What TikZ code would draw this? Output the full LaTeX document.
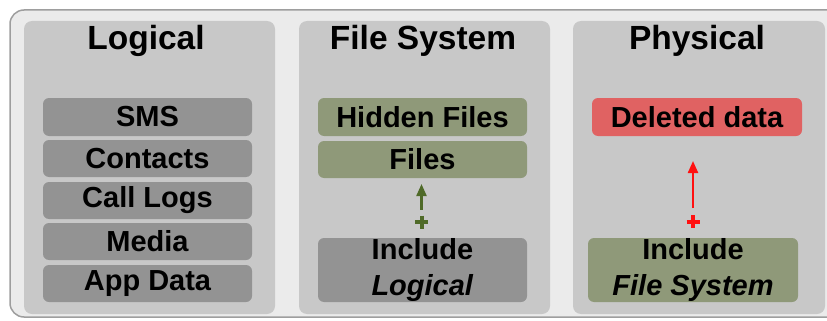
\documentclass[tikz,border=0pt]{standalone}
\usepackage{fontspec}
\setmainfont{Liberation Sans}
\usetikzlibrary{arrows.meta}
\definecolor{outerfill}{HTML}{EBEBEB}
\definecolor{outerline}{HTML}{9E9E9E}
\definecolor{panelfill}{HTML}{C8C8C8}
\definecolor{grayitem}{HTML}{939393}
\definecolor{greenitem}{HTML}{8F9979}
\definecolor{reditem}{HTML}{E06262}
\definecolor{arrowgreen}{HTML}{4F6A28}
\definecolor{arrowred}{HTML}{FF1010}
\tikzset{
  panel/.style={fill=panelfill, draw=none, rounded corners=8pt},
  title/.style={font=\fontsize{33.5}{40}\selectfont\bfseries, anchor=base, inner sep=0pt},
  item/.style={rounded corners=6pt, draw=none, minimum width=209pt, minimum height=37pt,
    inner sep=0pt, font=\fontsize{29}{36}\selectfont\bfseries, align=center, text=black},
  grayb/.style={item, fill=grayitem},
  greenb/.style={item, fill=greenitem},
  redb/.style={item, fill=reditem},
  plusnode/.style={minimum size=13pt, inner sep=0pt, outer sep=0pt},
  plusbar/.style={line width=4pt},
  uparrow/.style={line width=2.2pt, -{Triangle[length=12pt,width=10pt]}}
}
\begin{document}
\begin{tikzpicture}[x=1pt,y=-1pt]
\useasboundingbox (0,0) rectangle (827,321);
% outer frame
\draw[fill=outerfill, draw=outerline, line width=1.5pt, rounded corners=14pt] (10,10) rectangle (850,317);
% panels
\fill[panel] (24,21) rectangle (275,314);
\fill[panel] (299,21) rectangle (550,314);
\fill[panel] (573,21) rectangle (825,314);
% titles
\node[title] (tlog) at (146,50) {Logical};
\node[title] (tfs) at (423,50) {File System};
\node[title] (tphy) at (697,50) {Physical};
% logical items
\node[grayb, minimum height=38pt] (sms) at (147.5,117) {SMS};
\node[grayb] (contacts) at (147.5,158.5) {Contacts};
\node[grayb] (calllogs) at (147.5,200.5) {Call Logs};
\node[grayb] (media) at (147.5,241.5) {Media};
\node[grayb] (appdata) at (147.5,283.5) {App Data};
% file system items
\node[greenb, minimum height=38pt] (hidden) at (422.5,117) {Hidden Files};
\node[greenb] (files) at (422.5,159.5) {Files};
\node[grayb, minimum height=64pt] (inclog) at (422.5,270) {Include\\\textit{Logical}};
\node[plusnode] (plusg) at (421.5,222) {};
\draw[plusbar, arrowgreen] (plusg.west) -- (plusg.east) (plusg.north) -- (plusg.south);
\coordinate (gtip) at (421.5,184);
\draw[uparrow, arrowgreen] ([yshift=6pt]plusg.north) -- (gtip);
% physical items
\node[redb, minimum width=210pt, minimum height=38pt] (deleted) at (697,117) {Deleted data};
\node[greenb, minimum width=210pt, minimum height=64pt] (incfs) at (693,270) {Include\\\textit{File System}};
\node[plusnode] (plusr) at (693,221.5) {};
\draw[plusbar, arrowred] (plusr.west) -- (plusr.east) (plusr.north) -- (plusr.south);
\coordinate (rtip) at (693,161);
\draw[uparrow, arrowred] ([yshift=7pt]plusr.north) -- (rtip);
\end{tikzpicture}
\end{document}
